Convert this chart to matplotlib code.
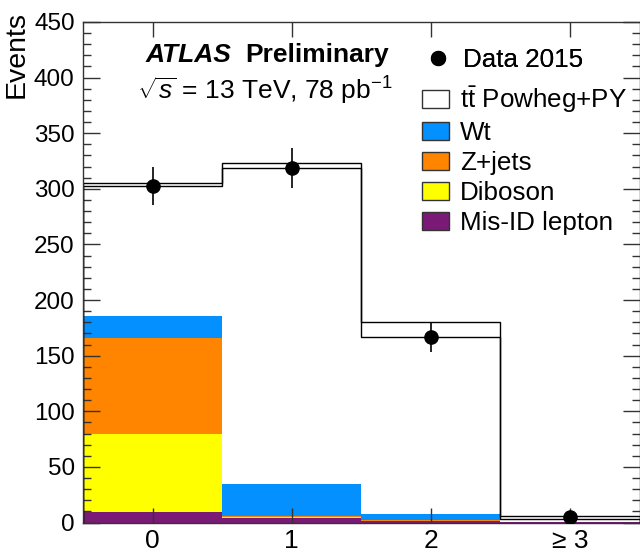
"""
Jet multiplicity in the e-mu channel, 2015 data vs stacked MC prediction
"""

import matplotlib
matplotlib.use("Agg")
import matplotlib.pyplot as plt
from matplotlib.patches import Patch
from matplotlib.lines import Line2D
from matplotlib.ticker import MultipleLocator
import numpy as np

plt.rcParams['font.family'] = ['Liberation Sans', 'DejaVu Sans']
plt.rcParams['mathtext.fontset'] = 'custom'
plt.rcParams['mathtext.rm'] = 'Liberation Sans'
plt.rcParams['mathtext.it'] = 'Liberation Sans:italic'
plt.rcParams['mathtext.bf'] = 'Liberation Sans:bold'

# Bins and labels
bin_centers = [0, 1, 2, 3]
bin_labels = ['0', '1', '2', '≥ 3']

# Stacked predictions (bottom to top)
misid = [9.0, 4.0, 1.5, 0.2]
diboson = [70.5, 0.7, 0.2, 0.1]
zjets = [86.5, 0.8, 0.2, 0.1]
wt = [19.7, 29.5, 5.5, 0.4]
ttbar = [119.3, 288.5, 172.9, 4.7]

# Second prediction outline
alt_total = [302.8, 319.0, 166.5, 3.0]

# Data with statistical errors
data = [302.6, 319.0, 166.5, 5.2]
data_err = [17.4, 17.9, 12.9, 2.3]

colors = {
    'misid': '#7a1a76',
    'diboson': '#ffff00',
    'zjets': '#ff8400',
    'wt': '#0590ff',
    'ttbar': '#ffffff',
}

fig = plt.figure(figsize=(6.4, 5.53), dpi=100)
ax = fig.add_axes([83 / 640, 30.5 / 553, 556.5 / 640, 500.5 / 553])

x = np.array(bin_centers)
edges = np.append(x - 0.5, x[-1] + 0.5)
bottom = np.zeros(len(x))
stack = [
    (misid, 'misid', 'Mis-ID lepton'),
    (diboson, 'diboson', 'Diboson'),
    (zjets, 'zjets', 'Z+jets'),
    (wt, 'wt', 'Wt'),
    (ttbar, 'ttbar', r't$\bar{\rm t}$ Powheg+PY'),
]
for vals, key, _ in stack:
    vals = np.array(vals)
    ax.bar(x, vals, width=1.0, bottom=bottom, color=colors[key],
           edgecolor='none', linewidth=0, zorder=1)
    bottom = bottom + vals

# Outlines of the two predictions
ax.stairs(bottom, edges, color='black', linewidth=1.0, zorder=2)
ax.stairs(alt_total, edges, color='black', linewidth=1.0, zorder=2)

# Data points
ax.errorbar(x, data, yerr=data_err, fmt='o', color='black', markersize=9.5,
            elinewidth=1.2, capsize=0, zorder=3)

ax.set_xlim(-0.5, 3.5)
ax.set_ylim(0, 450)
ax.set_xticks(bin_centers)
ax.set_xticklabels(bin_labels)
ax.yaxis.set_major_locator(MultipleLocator(50))
ax.yaxis.set_minor_locator(MultipleLocator(10))
ax.tick_params(axis='both', which='both', direction='in', top=True, right=True,
               color='#333333')
ax.tick_params(axis='y', which='major', length=12.5, width=1.0, pad=6,
               labelsize=17.5)
ax.tick_params(axis='y', which='minor', length=6, width=1.0)
ax.tick_params(axis='x', which='major', length=10.5, width=1.0, pad=5,
               labelsize=19)
ax.tick_params(axis='x', which='minor', length=0)
for sp in ax.spines.values():
    sp.set_linewidth(1.0)
    sp.set_color('#333333')

fig.text(4 / 640, 1 - 11 / 553, 'Events', rotation=90, ha='left', va='top',
         fontsize=20.5)

# Labels
ax.text(146 / 640, 1 - 62 / 553, 'ATLAS', transform=fig.transFigure,
        fontsize=19, fontweight='bold', fontstyle='italic', va='baseline')
ax.text(245 / 640, 1 - 62 / 553, 'Preliminary', transform=fig.transFigure,
        fontsize=19, fontweight='bold', va='baseline')
ax.text(137 / 640, 1 - 100 / 553, r'$\sqrt{s}$ = 13 TeV, 78 pb$^{-1}$',
        transform=fig.transFigure, fontsize=19, va='baseline')

# Legends
data_handle = Line2D([], [], marker='o', color='black', linestyle='none',
                     markersize=10)
leg1 = fig.legend([data_handle], ['Data 2015'], loc='center left',
                  bbox_to_anchor=(424 / 640, 1 - 60 / 553), frameon=False,
                  fontsize=18.7, handlelength=1.04, handletextpad=0.45,
                  borderpad=0, borderaxespad=0)
patches = [Patch(facecolor=colors[key], edgecolor='#333333', linewidth=1.0)
           for _, key, _ in reversed(stack)]
labels = [lab for _, _, lab in reversed(stack)]
fig.legend(patches, labels, loc='upper left',
           bbox_to_anchor=(422 / 640, 1 - 84 / 553), frameon=False,
           fontsize=18.7, handlelength=1.04, handleheight=0.69,
           handletextpad=0.42, labelspacing=0.23, borderpad=0, borderaxespad=0)
fig.add_artist(leg1)

fig.savefig('out.png', dpi=100)
